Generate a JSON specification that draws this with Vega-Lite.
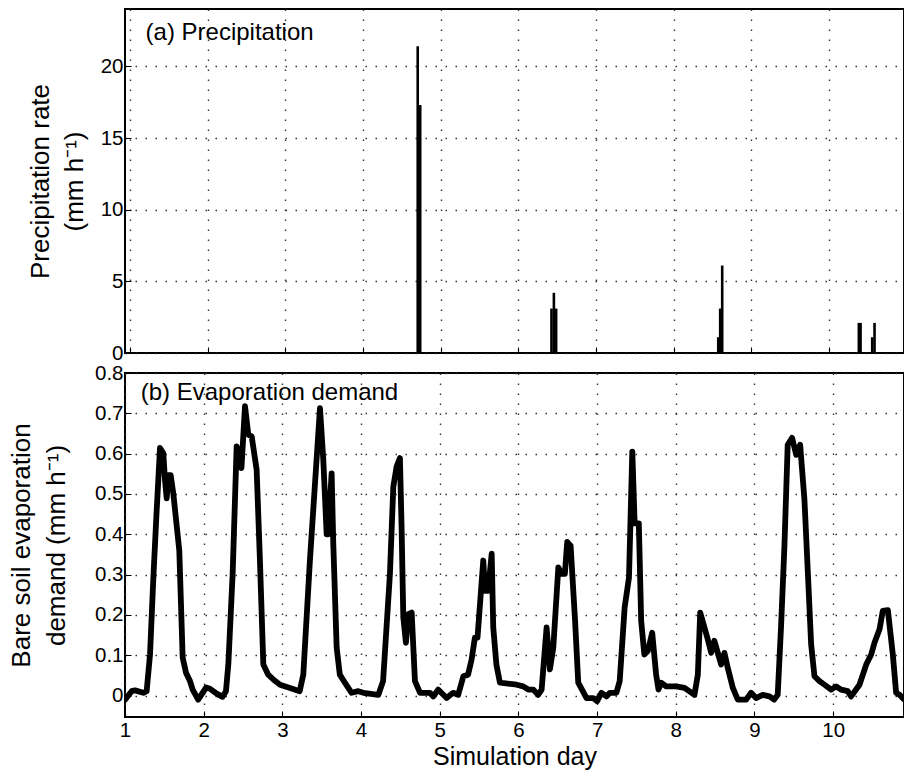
{
  "$schema": "https://vega.github.io/schema/vega-lite/v6.json",
  "padding": {"left": 7, "top": 8, "right": 0, "bottom": 0},
  "background": "white",
  "spacing": 20,
  "bounds": "flush",
  "config": {
    "font": "Liberation Sans",
    "view": {"stroke": "black", "strokeWidth": 2},
    "axis": {
      "labelFont": "Liberation Sans",
      "titleFont": "Liberation Sans",
      "labelFontSize": 20.5,
      "labelColor": "black",
      "titleColor": "black",
      "titleFontWeight": "normal",
      "domain": false,
      "tickColor": "black",
      "tickSize": -6,
      "tickWidth": 1,
      "labelFlush": false,
      "gridColor": "#333333",
      "gridDash": [1.5, 8.5],
      "gridWidth": 1.4,
      "gridOpacity": 1
    }
  },
  "datasets": {
    "precip": [
      {"day": 4.704, "p": 21.4},
      {"day": 4.736, "p": 17.3},
      {"day": 6.426, "p": 3.1},
      {"day": 6.457, "p": 4.2},
      {"day": 6.486, "p": 3.1},
      {"day": 8.573, "p": 1.1},
      {"day": 8.598, "p": 3.1},
      {"day": 8.624, "p": 6.1},
      {"day": 10.383, "p": 2.1},
      {"day": 10.405, "p": 2.1},
      {"day": 10.555, "p": 1.1},
      {"day": 10.585, "p": 2.1}
    ],
    "labels": [
      {"panel": "a", "label": "(a) Precipitation"}
    ],
    "labelsb": [
      {"panel": "b", "label": "(b) Evaporation demand"}
    ],
    "evap": [
      {"day": 1.0, "e": -0.01},
      {"day": 1.02, "e": -0.005},
      {"day": 1.085, "e": 0.011},
      {"day": 1.127, "e": 0.013},
      {"day": 1.233, "e": 0.007},
      {"day": 1.275, "e": 0.011},
      {"day": 1.318, "e": 0.102},
      {"day": 1.36, "e": 0.29},
      {"day": 1.4, "e": 0.45},
      {"day": 1.445, "e": 0.614},
      {"day": 1.487, "e": 0.601},
      {"day": 1.508, "e": 0.535},
      {"day": 1.53, "e": 0.489},
      {"day": 1.55, "e": 0.547},
      {"day": 1.58, "e": 0.547},
      {"day": 1.614, "e": 0.501},
      {"day": 1.69, "e": 0.36},
      {"day": 1.733, "e": 0.094},
      {"day": 1.775, "e": 0.057},
      {"day": 1.826, "e": 0.036},
      {"day": 1.86, "e": 0.015},
      {"day": 1.93, "e": -0.01},
      {"day": 2.03, "e": 0.02},
      {"day": 2.08, "e": 0.017},
      {"day": 2.165, "e": 0.005},
      {"day": 2.24, "e": -0.003},
      {"day": 2.283, "e": 0.011},
      {"day": 2.313, "e": 0.077},
      {"day": 2.368, "e": 0.302},
      {"day": 2.419, "e": 0.618},
      {"day": 2.45, "e": 0.6},
      {"day": 2.48, "e": 0.564},
      {"day": 2.525, "e": 0.718},
      {"day": 2.567, "e": 0.647},
      {"day": 2.61, "e": 0.643},
      {"day": 2.673, "e": 0.56},
      {"day": 2.715, "e": 0.335},
      {"day": 2.758, "e": 0.077},
      {"day": 2.82, "e": 0.052},
      {"day": 2.885, "e": 0.04},
      {"day": 2.97, "e": 0.027},
      {"day": 3.097, "e": 0.019},
      {"day": 3.22, "e": 0.011},
      {"day": 3.266, "e": 0.052},
      {"day": 3.35, "e": 0.335},
      {"day": 3.478, "e": 0.713},
      {"day": 3.52, "e": 0.585},
      {"day": 3.563, "e": 0.4},
      {"day": 3.58, "e": 0.4},
      {"day": 3.626, "e": 0.551},
      {"day": 3.647, "e": 0.377},
      {"day": 3.69, "e": 0.119},
      {"day": 3.73, "e": 0.052},
      {"day": 3.795, "e": 0.032},
      {"day": 3.88, "e": 0.007},
      {"day": 3.965, "e": 0.011},
      {"day": 4.03, "e": 0.007},
      {"day": 4.22, "e": 0.002},
      {"day": 4.28, "e": 0.036},
      {"day": 4.367, "e": 0.302},
      {"day": 4.41, "e": 0.518},
      {"day": 4.452, "e": 0.568},
      {"day": 4.494, "e": 0.589},
      {"day": 4.515, "e": 0.418},
      {"day": 4.537, "e": 0.194},
      {"day": 4.57, "e": 0.131},
      {"day": 4.6, "e": 0.202},
      {"day": 4.643, "e": 0.206},
      {"day": 4.685, "e": 0.036},
      {"day": 4.75, "e": 0.007},
      {"day": 4.875, "e": 0.007},
      {"day": 4.918, "e": -0.002},
      {"day": 4.98, "e": 0.015},
      {"day": 5.087, "e": -0.006},
      {"day": 5.17, "e": 0.007},
      {"day": 5.235, "e": 0.002},
      {"day": 5.3, "e": 0.048},
      {"day": 5.36, "e": 0.052},
      {"day": 5.405, "e": 0.09},
      {"day": 5.447, "e": 0.144},
      {"day": 5.48, "e": 0.144},
      {"day": 5.553, "e": 0.335},
      {"day": 5.575, "e": 0.26},
      {"day": 5.615, "e": 0.26},
      {"day": 5.66, "e": 0.352},
      {"day": 5.68, "e": 0.169},
      {"day": 5.72, "e": 0.077},
      {"day": 5.765, "e": 0.032},
      {"day": 5.978, "e": 0.027},
      {"day": 6.06, "e": 0.023},
      {"day": 6.125, "e": 0.015},
      {"day": 6.19, "e": 0.015},
      {"day": 6.25, "e": 0.002},
      {"day": 6.295, "e": 0.015},
      {"day": 6.358, "e": 0.169},
      {"day": 6.4, "e": 0.065},
      {"day": 6.443, "e": 0.119},
      {"day": 6.507, "e": 0.318},
      {"day": 6.55, "e": 0.302},
      {"day": 6.59, "e": 0.302},
      {"day": 6.62, "e": 0.381},
      {"day": 6.663, "e": 0.372},
      {"day": 6.72, "e": 0.185},
      {"day": 6.76, "e": 0.032},
      {"day": 6.866, "e": -0.006},
      {"day": 6.95, "e": -0.006},
      {"day": 7.0, "e": -0.014},
      {"day": 7.055, "e": 0.007},
      {"day": 7.12, "e": -0.002},
      {"day": 7.16, "e": 0.007},
      {"day": 7.245, "e": 0.007},
      {"day": 7.287, "e": 0.036},
      {"day": 7.35, "e": 0.219},
      {"day": 7.405, "e": 0.293},
      {"day": 7.447, "e": 0.605},
      {"day": 7.477, "e": 0.427},
      {"day": 7.53, "e": 0.427},
      {"day": 7.56, "e": 0.185},
      {"day": 7.6, "e": 0.102},
      {"day": 7.645, "e": 0.111},
      {"day": 7.7, "e": 0.156},
      {"day": 7.75, "e": 0.052},
      {"day": 7.78, "e": 0.015},
      {"day": 7.813, "e": 0.032},
      {"day": 7.877, "e": 0.023},
      {"day": 8.004, "e": 0.023},
      {"day": 8.11, "e": 0.019},
      {"day": 8.17, "e": 0.011},
      {"day": 8.237, "e": 0.002},
      {"day": 8.28, "e": 0.052},
      {"day": 8.31, "e": 0.206},
      {"day": 8.364, "e": 0.169},
      {"day": 8.406, "e": 0.14},
      {"day": 8.45, "e": 0.106},
      {"day": 8.49, "e": 0.136},
      {"day": 8.534, "e": 0.106},
      {"day": 8.576, "e": 0.077},
      {"day": 8.618, "e": 0.106},
      {"day": 8.66, "e": 0.069},
      {"day": 8.725, "e": 0.019},
      {"day": 8.788, "e": -0.01},
      {"day": 8.894, "e": -0.01},
      {"day": 8.957, "e": 0.007},
      {"day": 9.02, "e": -0.006},
      {"day": 9.105, "e": 0.002},
      {"day": 9.19, "e": -0.002},
      {"day": 9.25, "e": -0.01},
      {"day": 9.295, "e": 0.002},
      {"day": 9.337, "e": 0.169},
      {"day": 9.38, "e": 0.368},
      {"day": 9.422, "e": 0.622},
      {"day": 9.478, "e": 0.639},
      {"day": 9.53, "e": 0.597},
      {"day": 9.58, "e": 0.622},
      {"day": 9.635, "e": 0.485},
      {"day": 9.677, "e": 0.31},
      {"day": 9.72, "e": 0.127},
      {"day": 9.762, "e": 0.048},
      {"day": 9.826, "e": 0.036},
      {"day": 9.89, "e": 0.027},
      {"day": 9.974, "e": 0.015},
      {"day": 10.038, "e": 0.023},
      {"day": 10.1, "e": 0.015},
      {"day": 10.186, "e": 0.011},
      {"day": 10.228, "e": -0.002},
      {"day": 10.334, "e": 0.027},
      {"day": 10.42, "e": 0.077},
      {"day": 10.483, "e": 0.102},
      {"day": 10.525, "e": 0.131},
      {"day": 10.59, "e": 0.165},
      {"day": 10.63, "e": 0.21},
      {"day": 10.695, "e": 0.212},
      {"day": 10.758, "e": 0.102},
      {"day": 10.8, "e": 0.007},
      {"day": 10.843, "e": 0.002},
      {"day": 10.894, "e": -0.008}
    ]
  },
  "vconcat": [
    {
      "width": 779,
      "height": 344,
      "layer": [
        {
          "data": {"name": "precip"},
          "mark": {"type": "bar", "orient": "vertical", "size": 2.6, "color": "black"},
          "encoding": {
            "x": {
              "field": "day", "type": "quantitative",
              "scale": {"domain": [1, 10.9], "nice": false, "zero": false},
              "axis": {"values": [1, 2, 3, 4, 5, 6, 7, 8, 9, 10], "labels": false, "title": null, "grid": true}
            },
            "y": {
              "field": "p", "type": "quantitative", "stack": null,
              "scale": {"domain": [0, 24], "nice": false},
              "axis": {
                "values": [0, 5, 10, 15, 20],
                "grid": true,
                "labelPadding": 8,
                "title": ["Precipitation rate", "(mm h⁻¹)"],
                "titleFontSize": 26,
                "titleLineHeight": 34,
                "titlePadding": 13
              }
            }
          }
        },
        {
          "data": {"name": "labels"},
          "mark": {"type": "text", "align": "left", "baseline": "middle", "fontSize": 24, "font": "Liberation Sans", "color": "black"},
          "encoding": {
            "x": {"datum": 1.2, "type": "quantitative"},
            "y": {"datum": 22.3, "type": "quantitative"},
            "text": {"field": "label"}
          }
        }
      ]
    },
    {
      "width": 779,
      "height": 344,
      "layer": [
        {
          "data": {"name": "evap"},
          "mark": {"type": "line", "color": "black", "strokeWidth": 5.8, "strokeJoin": "round", "strokeCap": "round", "clip": true},
          "encoding": {
            "x": {
              "field": "day", "type": "quantitative",
              "scale": {"domain": [1, 10.9], "nice": false, "zero": false},
              "axis": {
                "values": [1, 2, 3, 4, 5, 6, 7, 8, 9, 10],
                "format": "d",
                "grid": true,
                "labelPadding": 9,
                "title": "Simulation day",
                "titleFontSize": 25,
                "titlePadding": 4
              }
            },
            "y": {
              "field": "e", "type": "quantitative",
              "scale": {"domain": [-0.053, 0.8], "nice": false, "zero": false},
              "axis": {
                "values": [0, 0.1, 0.2, 0.3, 0.4, 0.5, 0.6, 0.7, 0.8],
                "labelExpr": "datum.value == 0 ? '0' : format(datum.value, '.1f')",
                "grid": true,
                "labelPadding": 8,
                "title": ["Bare soil evaporation", "demand (mm h⁻¹)"],
                "titleFontSize": 26,
                "titleLineHeight": 35,
                "titlePadding": 25
              }
            }
          }
        },
        {
          "data": {"name": "labelsb"},
          "mark": {"type": "text", "align": "left", "baseline": "middle", "fontSize": 24, "font": "Liberation Sans", "color": "black"},
          "encoding": {
            "x": {"datum": 1.2, "type": "quantitative"},
            "y": {"datum": 0.75, "type": "quantitative"},
            "text": {"field": "label"}
          }
        }
      ]
    }
  ]
}
